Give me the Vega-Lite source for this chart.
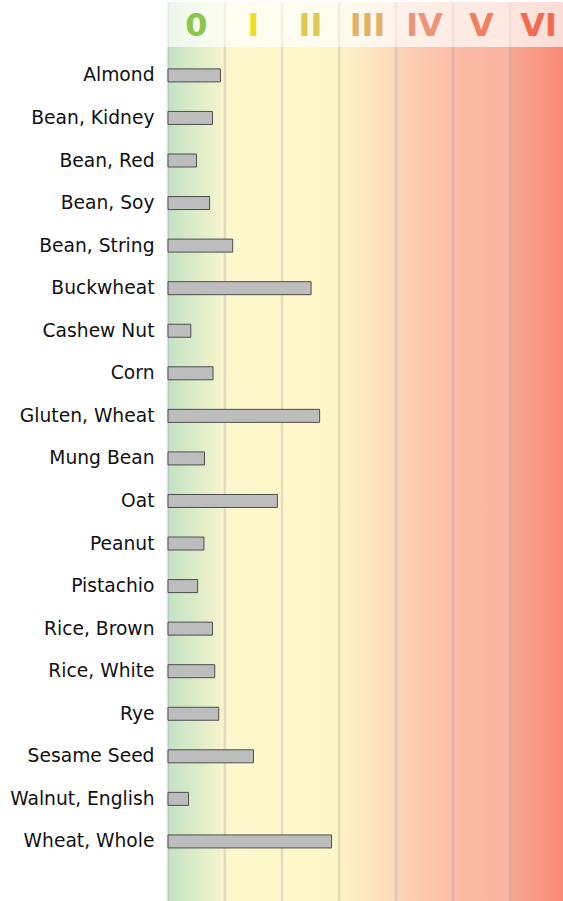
{
  "$schema": "https://vega.github.io/schema/vega-lite/v6.json",
  "padding": {"left": 9, "right": 0, "top": 0, "bottom": 0},
  "bounds": "flush",
  "spacing": 0,
  "config": {
    "view": {"stroke": null},
    "font": "DejaVu Sans",
    "axis": {"labelFont": "DejaVu Sans"}
  },
  "datasets": {
    "levels": [
      {"level": "0", "lo": 0, "hi": 1, "mid": 0.5},
      {"level": "I", "lo": 1, "hi": 2, "mid": 1.5},
      {"level": "II", "lo": 2, "hi": 3, "mid": 2.5},
      {"level": "III", "lo": 3, "hi": 4, "mid": 3.5},
      {"level": "IV", "lo": 4, "hi": 5, "mid": 4.5},
      {"level": "V", "lo": 5, "hi": 6, "mid": 5.5},
      {"level": "VI", "lo": 6, "hi": 7, "mid": 6.5}
    ],
    "foods": [
      {"food": "Almond", "value": 0.92},
      {"food": "Bean, Kidney", "value": 0.78},
      {"food": "Bean, Red", "value": 0.50},
      {"food": "Bean, Soy", "value": 0.73},
      {"food": "Bean, String", "value": 1.135},
      {"food": "Buckwheat", "value": 2.51},
      {"food": "Cashew Nut", "value": 0.40},
      {"food": "Corn", "value": 0.79},
      {"food": "Gluten, Wheat", "value": 2.66},
      {"food": "Mung Bean", "value": 0.64},
      {"food": "Oat", "value": 1.92},
      {"food": "Peanut", "value": 0.63},
      {"food": "Pistachio", "value": 0.52},
      {"food": "Rice, Brown", "value": 0.78},
      {"food": "Rice, White", "value": 0.82},
      {"food": "Rye", "value": 0.89},
      {"food": "Sesame Seed", "value": 1.50},
      {"food": "Walnut, English", "value": 0.36},
      {"food": "Wheat, Whole", "value": 2.87}
    ]
  },
  "vconcat": [
    {
      "width": 395,
      "height": 45,
      "layer": [
        {
          "data": {"name": "levels"},
          "transform": [{"aggregate": [{"op": "min", "field": "lo", "as": "lo"}, {"op": "max", "field": "hi", "as": "hi"}]}],
          "mark": {
            "type": "rect", "clip": true, "opacity": 0.3,
            "color": {
              "gradient": "linear", "x1": 0, "x2": 1, "y1": 0, "y2": 0,
              "stops": [
                {"offset": 0, "color": "#c3e3c5"},
                {"offset": 0.142857, "color": "#f7f6cc"},
                {"offset": 0.142857, "color": "#fdf9cc"},
                {"offset": 0.428571, "color": "#fdf6c8"},
                {"offset": 0.428571, "color": "#fdf3c6"},
                {"offset": 0.571429, "color": "#fcdabc"},
                {"offset": 0.571429, "color": "#fcd4b8"},
                {"offset": 0.714286, "color": "#fbbfa8"},
                {"offset": 0.714286, "color": "#fbbba6"},
                {"offset": 0.857143, "color": "#fab3a0"},
                {"offset": 0.857143, "color": "#f9a893"},
                {"offset": 1, "color": "#f68876"}
              ]
            }
          },
          "encoding": {
            "x": {"field": "lo", "type": "quantitative", "scale": {"domain": [0, 6.93], "nice": false, "zero": false}, "axis": null},
            "x2": {"field": "hi"}
          }
        },
        {
          "data": {"name": "levels"},
          "mark": {"type": "rule", "color": "#b0b0b0", "opacity": 0.15, "strokeWidth": 2.5},
          "encoding": {
            "x": {"field": "lo", "type": "quantitative"}
          }
        },
        {
          "data": {"name": "levels"},
          "mark": {"type": "text", "fontSize": 32, "fontWeight": "bold", "baseline": "middle", "align": "center", "dy": 1},
          "encoding": {
            "x": {"field": "mid", "type": "quantitative"},
            "text": {"field": "level"},
            "color": {
              "field": "level", "type": "nominal", "legend": null,
              "scale": {
                "domain": ["0", "I", "II", "III", "IV", "V", "VI"],
                "range": ["#8cc64a", "#f0dd25", "#dfc950", "#e2b066", "#ec9477", "#f17f5e", "#f46a4c"]
              }
            }
          }
        }
      ]
    },
    {
      "width": 395,
      "height": 856,
      "layer": [
        {
          "data": {"name": "levels"},
          "transform": [{"aggregate": [{"op": "min", "field": "lo", "as": "lo"}, {"op": "max", "field": "hi", "as": "hi"}]}],
          "mark": {
            "type": "rect", "clip": true,
            "color": {
              "gradient": "linear", "x1": 0, "x2": 1, "y1": 0, "y2": 0,
              "stops": [
                {"offset": 0, "color": "#c3e3c5"},
                {"offset": 0.142857, "color": "#f7f6cc"},
                {"offset": 0.142857, "color": "#fdf9cc"},
                {"offset": 0.428571, "color": "#fdf6c8"},
                {"offset": 0.428571, "color": "#fdf3c6"},
                {"offset": 0.571429, "color": "#fcdabc"},
                {"offset": 0.571429, "color": "#fcd4b8"},
                {"offset": 0.714286, "color": "#fbbfa8"},
                {"offset": 0.714286, "color": "#fbbba6"},
                {"offset": 0.857143, "color": "#fab3a0"},
                {"offset": 0.857143, "color": "#f9a893"},
                {"offset": 1, "color": "#f68876"}
              ]
            }
          },
          "encoding": {
            "x": {"field": "lo", "type": "quantitative", "scale": {"domain": [0, 6.93], "nice": false, "zero": false}, "axis": null},
            "x2": {"field": "hi"}
          }
        },
        {
          "data": {"name": "levels"},
          "mark": {"type": "rule", "color": "#a8a8a8", "opacity": 0.35, "strokeWidth": 2.5},
          "encoding": {
            "x": {"field": "lo", "type": "quantitative"}
          }
        },
        {
          "data": {"name": "foods"},
          "mark": {"type": "bar", "height": 13, "fill": "#bdbdbd", "stroke": "#4d4d4d", "strokeWidth": 1},
          "encoding": {
            "x": {"field": "value", "type": "quantitative"},
            "y": {
              "field": "food", "type": "nominal", "sort": null,
              "scale": {"paddingInner": 0, "paddingOuter": 0.557, "align": 0.15},
              "axis": {"title": null, "ticks": false, "domain": false, "grid": false, "labelFontSize": 18.7, "labelPadding": 14, "labelColor": "#111", "labelLimit": 0}
            }
          }
        }
      ]
    }
  ]
}
